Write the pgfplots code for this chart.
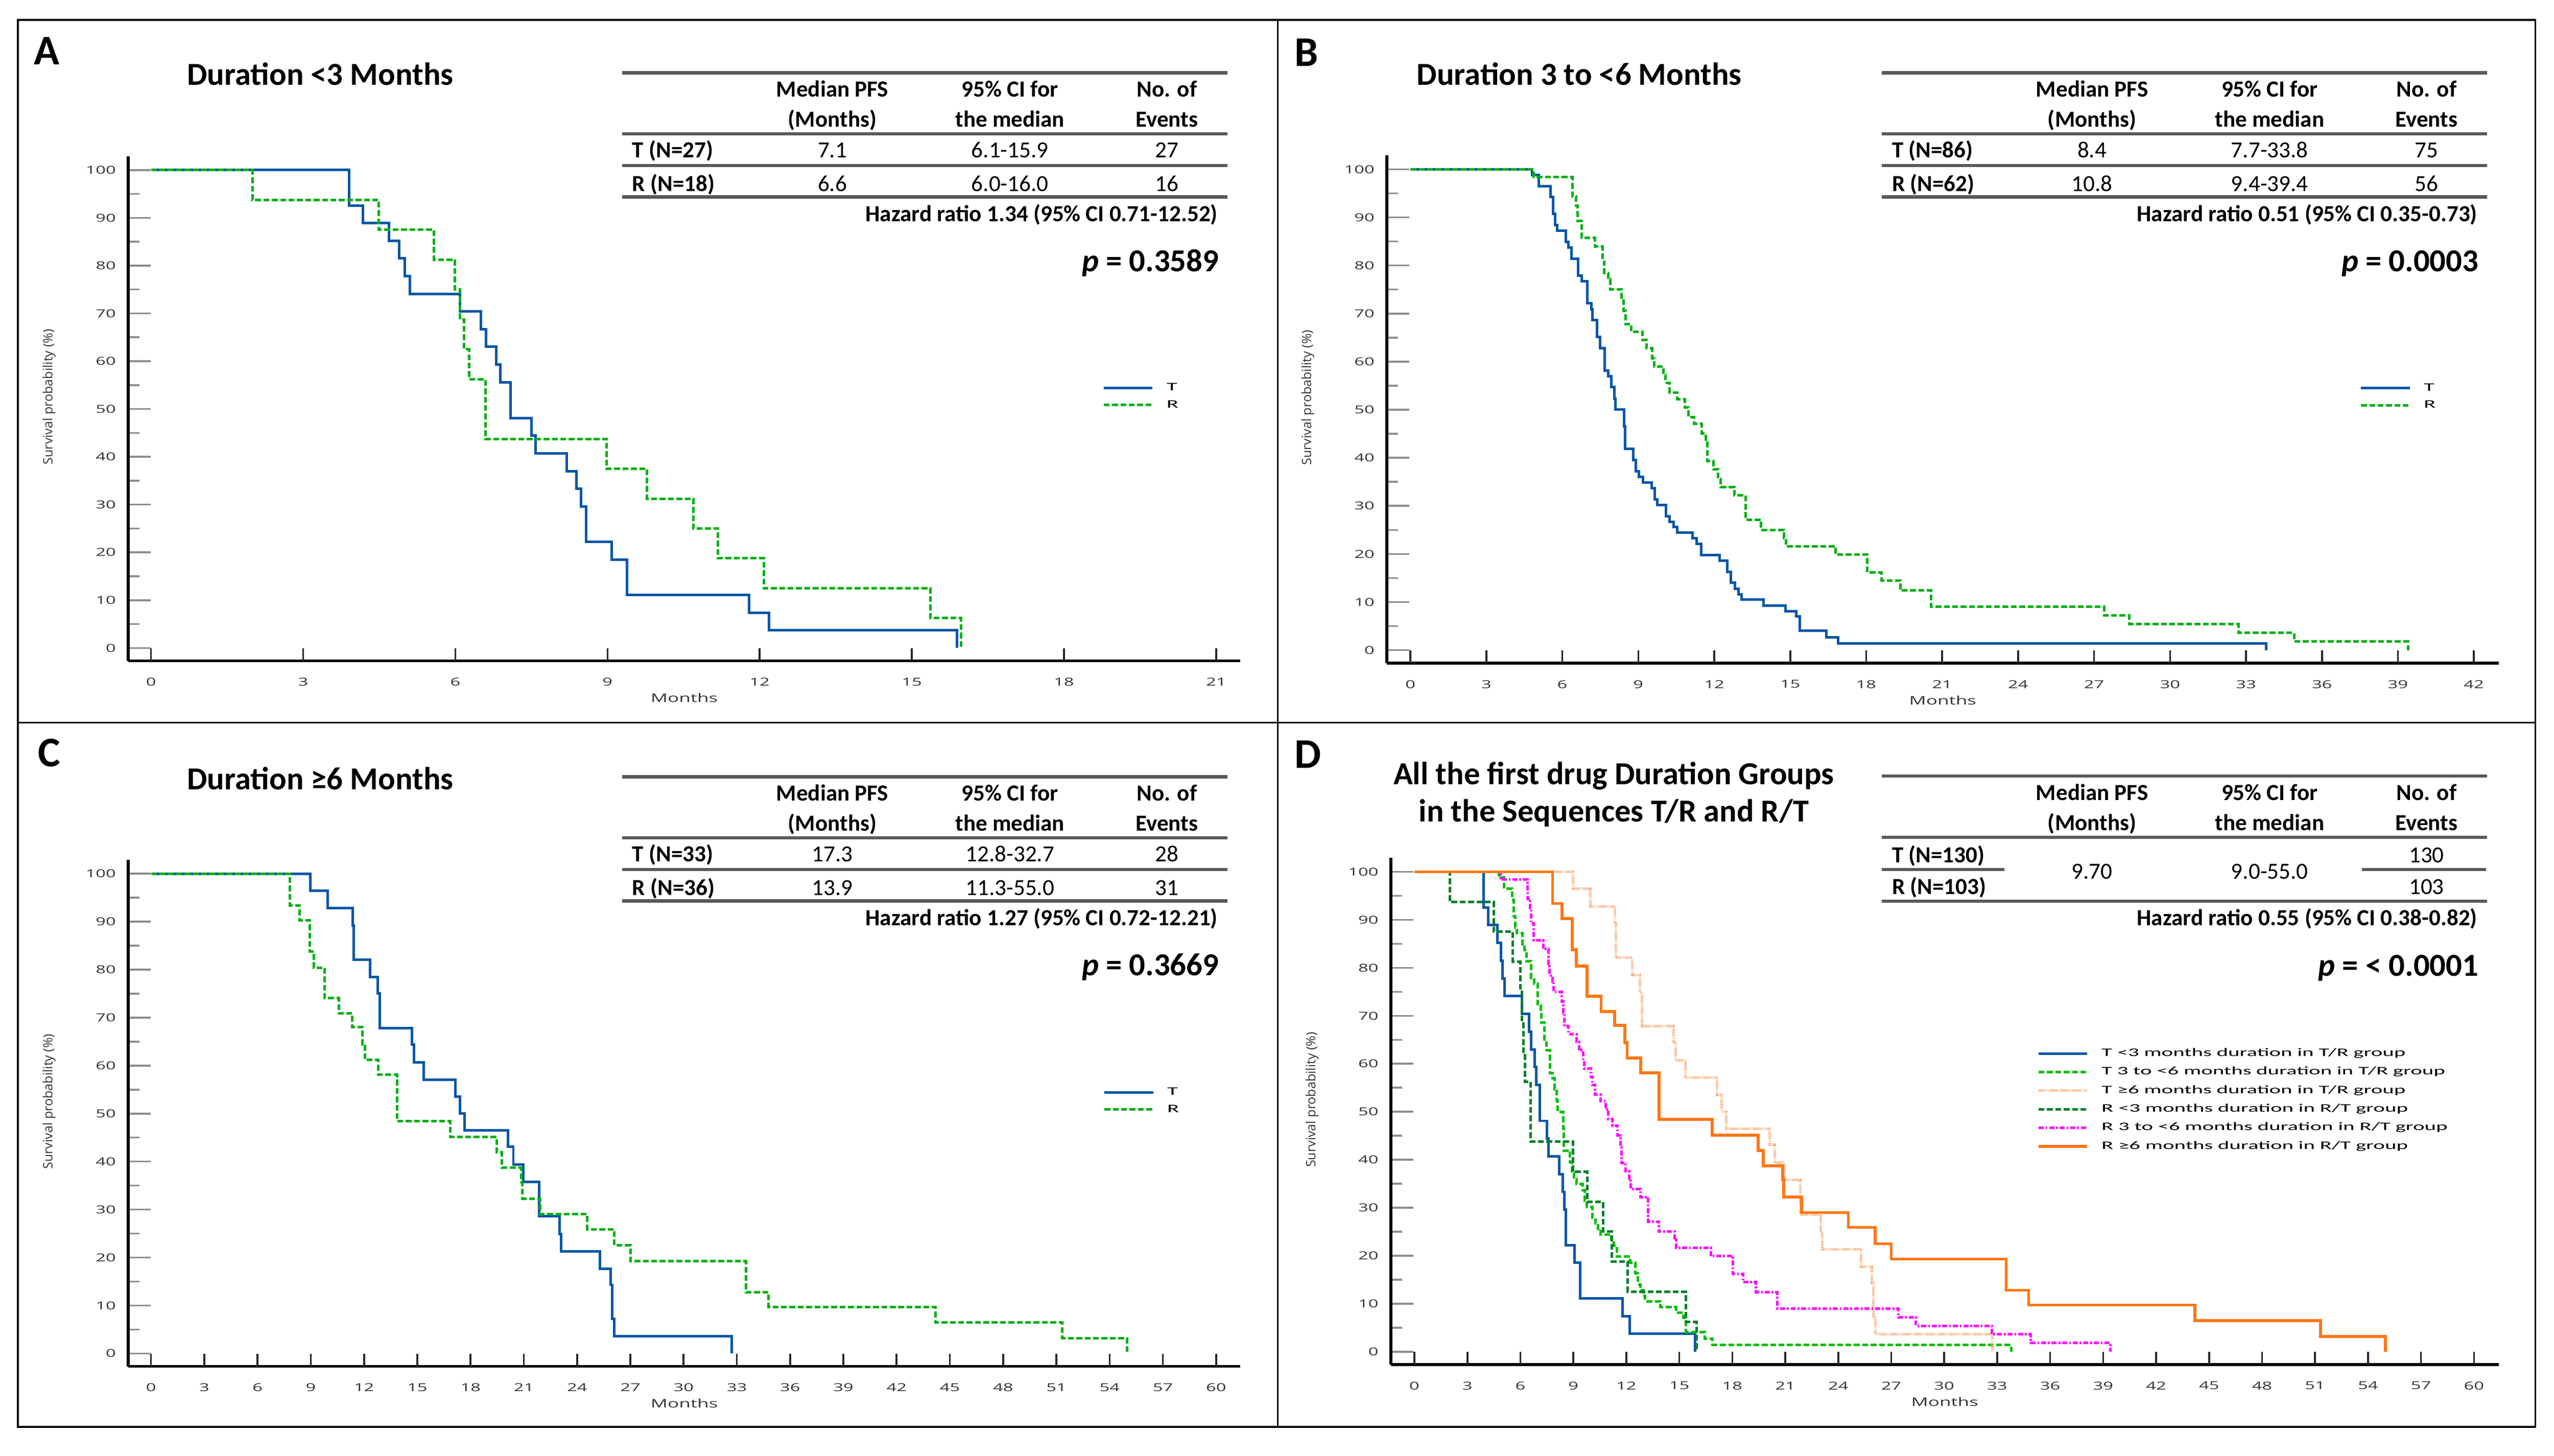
\documentclass[border=0pt]{standalone}
\usepackage{pgfplots}
\usepackage{pgfplotstable}
\pgfplotsset{compat=1.18}
\usepackage{fontspec}
\setmainfont{Carlito}
\newfontfamily\tickfont[FakeStretch=1.6]{Open Sans}
\newfontfamily\labfont{Open Sans}
\newfontfamily\legfont[FakeStretch=1.9]{Carlito}

\definecolor{cT}{RGB}{0,86,166}
\definecolor{cR}{RGB}{0,176,20}
\definecolor{cTB}{RGB}{0,190,0}
\definecolor{cDG}{RGB}{0,128,40}
\definecolor{cMag}{RGB}{255,0,255}
\definecolor{cOr}{RGB}{255,118,20}
\definecolor{cLO}{RGB}{246,176,128}
\definecolor{rulec}{RGB}{90,90,90}

% ---------------- data (months, survival %) ----------------
\pgfplotstableread{
t s
0 100
3.91 92.6
4.18 88.9
4.69 85.2
4.89 81.5
5.00 77.8
5.10 74.1
6.09 70.4
6.50 66.7
6.61 63.0
6.81 59.3
6.89 55.6
7.09 48.1
7.50 44.4
7.58 40.7
8.20 37.0
8.39 33.3
8.48 29.6
8.58 22.2
9.08 18.5
9.38 11.1
11.79 7.4
12.18 3.7
15.89 0
}\ATt
\pgfplotstableread{
t s
0 100
2.00 93.75
4.49 87.5
5.58 81.25
5.99 75
6.09 68.75
6.17 62.5
6.27 56.25
6.59 43.75
8.98 37.5
9.78 31.25
10.69 25
11.18 18.75
12.08 12.5
15.37 6.25
15.97 0
}\ARt
\pgfplotstableread{
t s
0 100
4.80 98.8
5.08 96.5
5.53 94.2
5.63 90.7
5.71 88.4
5.79 87.2
6.13 84.9
6.24 83.7
6.36 81.4
6.62 77.9
6.77 76.7
6.99 72.1
7.15 70.9
7.18 68.6
7.37 65.1
7.49 62.8
7.67 58.1
7.82 57.0
7.93 54.7
8.05 52.3
8.10 50.0
8.43 46.5
8.47 41.9
8.81 39.5
8.91 37.2
9.03 36.0
9.18 34.9
9.52 33.7
9.64 31.4
9.76 30.2
10.09 27.9
10.24 26.7
10.39 25.6
10.54 24.4
11.15 23.3
11.30 22.1
11.48 19.8
12.21 18.6
12.51 16.3
12.66 14.0
12.81 12.8
12.96 11.6
13.07 10.5
13.94 9.3
14.82 8.1
15.23 7.0
15.38 4.1
16.43 2.7
16.89 1.4
33.80 0
}\BTt
\pgfplotstableread{
t s
0 100
4.87 98.4
6.40 94.4
6.55 92.4
6.61 89.3
6.76 85.7
7.29 83.9
7.59 80.8
7.66 78.4
7.81 77.1
7.89 75.0
8.34 73.0
8.42 70.6
8.49 67.8
8.72 66.2
9.17 64.5
9.32 62.8
9.55 60.7
9.62 59.0
10.00 57.3
10.08 55.6
10.23 53.6
10.53 52.2
10.83 50.5
10.98 48.5
11.21 47.1
11.51 45.1
11.66 43.1
11.73 39.3
11.96 37.6
12.16 35.6
12.26 33.9
12.79 32.2
13.24 27.1
13.85 25.0
14.75 23.3
14.83 21.6
16.79 19.9
18.04 16.2
18.60 14.5
19.35 12.4
20.56 9.0
27.40 7.2
28.40 5.4
32.70 3.6
34.90 1.8
39.40 0
}\BRt
\pgfplotstableread{
t s
0 100
8.98 96.5
9.95 92.8
11.36 89.2
11.42 82.1
12.34 78.5
12.78 75.0
12.88 67.8
14.69 64.4
14.80 60.7
15.35 57.1
17.15 53.5
17.41 50.0
17.66 46.5
20.12 43.1
20.41 39.4
20.96 35.8
21.86 28.6
23.02 24.9
23.09 21.3
25.30 17.7
25.90 14.3
25.99 7.2
26.10 3.6
32.72 0
}\CTt
\pgfplotstableread{
t s
0 100
7.82 93.4
8.36 90.3
8.94 83.8
9.16 80.4
9.77 74.1
10.57 70.9
11.33 68.0
11.91 64.4
12.05 61.2
12.81 58.1
13.86 48.4
16.87 45.1
19.47 41.9
19.76 38.7
20.85 35.8
20.92 32.2
21.93 29.0
24.57 25.9
26.09 22.5
27.00 19.3
33.51 12.8
34.78 9.7
44.19 6.5
51.32 3.2
54.98 0
}\CRt

\pgfplotsset{
  km/.style={
    scale only axis,
    axis lines*=left,
    axis line style={line width=0.4mm, black},
    ymin=-2.7, ymax=102.9,
    ytick={0,10,...,100},
    minor ytick={5,15,...,95},
    tick align=inside,
    major tick length=3.1mm,
    minor tick length=1.55mm,
    ytick style={draw=black!45, line width=0.25mm},
    minor tick style={draw=black!45, line width=0.25mm},
    xtick=\empty,
    xtick style={draw=black!85, line width=0.25mm},
    extra x tick style={major tick length=1.75mm},
    /pgf/number format/assume math mode=true,
    ticklabel style={font=\tickfont\fontsize{4.3}{5}\selectfont, text=black!80},
    yticklabel style={xshift=-0.45mm},
    xticklabel style={yshift=-1.1mm},
    xlabel={Months},
    ylabel={Survival probability (\%)},
    xlabel style={at={(axis description cs:0.5,0)}, anchor=center, yshift=-5.1mm,
      font=\tickfont\fontsize{4.6}{5.5}\selectfont, text=black!80},
    ylabel style={at={(axis description cs:-0.071,0.523)}, anchor=center,
      font=\labfont\fontsize{5}{6}\selectfont, text=black!80},
    legend cell align=left,
    legend style={draw=none, fill=none, inner sep=0pt, outer sep=0pt,
      column sep=1.75mm, row sep=0.9mm,
      font=\legfont\fontsize{4.5}{5.5}\selectfont,
      nodes={inner sep=0pt, text height=1.1mm, text depth=0.35mm}},
    legend image code/.code={\draw[#1] (0mm,0mm) -- (6.7mm,0mm);},
  },
  Tst/.style={cT, line width=0.35mm, const plot, no marks},
  Rst/.style={cR, line width=0.35mm, dash pattern=on 0.8mm off 0.35mm, const plot, no marks},
}

\newcommand\tabfs{\fontsize{9}{10.8}\selectfont}
\newcommand\pfs{\fontsize{12.5}{15}\selectfont}
\newcommand\ttfs{\fontsize{12.5}{15}\selectfont\bfseries}
\newcommand\letfs{\fontsize{16.5}{19}\selectfont\bfseries}

\newcommand\tabhead[2]{%
  \begin{scope}[shift={(#1,#2)}]
    \draw[rulec, line width=0.45mm] (1710,200) -- (3372,200);
    \draw[rulec, line width=0.45mm] (1710,368) -- (3372,368);
    \node[anchor=base, font=\tabfs\bfseries] at (2287,266) {Median PFS};
    \node[anchor=base, font=\tabfs\bfseries] at (2287,349) {(Months)};
    \node[anchor=base, font=\tabfs\bfseries] at (2775,266) {95\% CI for};
    \node[anchor=base, font=\tabfs\bfseries] at (2775,349) {the median};
    \node[anchor=base, font=\tabfs\bfseries] at (3206,266) {No. of};
    \node[anchor=base, font=\tabfs\bfseries] at (3206,349) {Events};
  \end{scope}}
\newcommand\tabrows[9]{%
  \begin{scope}[shift={(#1,#2)}]
    \node[anchor=base west, font=\tabfs\bfseries] at (1736,433) {#3};
    \node[anchor=base, font=\tabfs] at (2287,433) {#4};
    \node[anchor=base, font=\tabfs] at (2775,433) {#5};
    \node[anchor=base, font=\tabfs] at (3206,433) {#6};
    \draw[rulec, line width=0.45mm] (1710,455) -- (3372,455);
    \node[anchor=base west, font=\tabfs\bfseries] at (1736,525) {#7};
    \node[anchor=base, font=\tabfs] at (2287,525) {#8};
    \node[anchor=base, font=\tabfs] at (2775,525) {#9};
  \end{scope}}
\newcommand\tabfoot[5]{%
  \begin{scope}[shift={(#1,#2)}]
    \node[anchor=base, font=\tabfs] at (3206,525) {#3};
    \draw[rulec, line width=0.45mm] (1710,541) -- (3372,541);
    \node[anchor=base east, font=\tabfs\bfseries] at (3347,608) {#4};
    \node[anchor=base east, font=\pfs\bfseries] at (3350,746) {{\itshape p} = #5};
  \end{scope}}

\begin{document}
\begin{tikzpicture}
\path[use as bounding box] (0,0) rectangle (350.85mm,199.95mm);
\fill[white] (0,0) rectangle (350.85mm,199.95mm);

% ---------------- Panel A ----------------
\begin{axis}[km, at={(17.6mm,109.175mm)}, anchor=south west,
  width=152.8mm, height=69.325mm, xmin=-0.452, xmax=21.48,
  extra x ticks={0,3,...,21},
  legend style={at={(axis description cs:0.876,0.524)}, anchor=west}]
\addplot[Tst] table[x=t,y=s]{\ATt}; \addlegendentry{T}
\addplot[Rst] table[x=t,y=s]{\ARt}; \addlegendentry{R}
\end{axis}

% ---------------- Panel B ----------------
\begin{axis}[km, at={(190.5mm,108.865mm)}, anchor=south west,
  width=152.75mm, height=69.75mm, xmin=-0.934, xmax=42.98,
  extra x ticks={0,3,...,42},
  legend style={at={(axis description cs:0.875,0.5245)}, anchor=west}]
\addplot[Tst] table[x=t,y=s]{\BTt}; \addlegendentry{T}
\addplot[Rst] table[x=t,y=s]{\BRt}; \addlegendentry{R}
\end{axis}

% ---------------- Panel C ----------------
\begin{axis}[km, at={(17.6mm,12.27mm)}, anchor=south west,
  width=152.8mm, height=69.59mm, xmin=-1.292, xmax=61.37,
  extra x ticks={0,3,...,60},
  legend style={at={(axis description cs:0.8766,0.524)}, anchor=west}]
\addplot[Tst] table[x=t,y=s]{\CTt}; \addlegendentry{T}
\addplot[Rst] table[x=t,y=s]{\CRt}; \addlegendentry{R}
\end{axis}

% ---------------- Panel D ----------------
\begin{axis}[km, at={(191.05mm,12.52mm)}, anchor=south west,
  width=152.2mm, height=69.59mm, xmin=-1.34, xmax=61.40,
  extra x ticks={0,3,...,60},
  legend style={at={(axis description cs:0.5834,0.5224)}, anchor=west, row sep=1.1mm}]
\addplot[Tst] table[x=t,y=s]{\ATt};
\addlegendentry{T <3 months duration in T/R group}
\addplot[cTB, line width=0.35mm, dash pattern=on 0.8mm off 0.35mm, const plot, no marks] table[x=t,y=s]{\BTt};
\addlegendentry{T 3 to <6 months duration in T/R group}
\addplot[cLO, line width=0.35mm, dash pattern=on 0.12mm off 0.1mm, const plot, no marks] table[x=t,y=s]{\CTt};
\addlegendentry{T ≥6 months duration in T/R group}
\addplot[cDG, line width=0.35mm, dash pattern=on 0.8mm off 0.35mm, const plot, no marks] table[x=t,y=s]{\ARt};
\addlegendentry{R <3 months duration in R/T group}
\addplot[cMag, line width=0.35mm, dash pattern=on 0.7mm off 0.25mm on 0.25mm off 0.25mm, const plot, no marks] table[x=t,y=s]{\BRt};
\addlegendentry{R 3 to <6 months duration in R/T group}
\addplot[cOr, line width=0.4mm, const plot, no marks] table[x=t,y=s]{\CRt};
\addlegendentry{R ≥6 months duration in R/T group}
\end{axis}

% ---------------- annotations (pixel coordinates, y down) ----------------
\begin{scope}[x=0.05mm, y=-0.05mm, shift={(0,199.95mm)}, every node/.style={inner sep=0pt}]
  % frames
  \draw[black, line width=0.25mm] (49,55) rectangle (6966,3920);
  \draw[black, line width=0.25mm] (3511,55) -- (3511,3920);
  \draw[black, line width=0.25mm] (49,1985) -- (6966,1985);
  % letters
  \node[font=\letfs] at (129,140) {A};
  \node[font=\letfs] at (3590,144) {B};
  \node[font=\letfs] at (135,2068) {C};
  \node[font=\letfs] at (3593,2073) {D};
  % titles
  \node[anchor=base, font=\ttfs] at (880,234) {Duration <3 Months};
  \node[anchor=base, font=\ttfs] at (4339,234) {Duration 3 to <6 Months};
  \node[anchor=base, font=\ttfs] at (880,2169) {Duration ≥6 Months};
  \node[anchor=base, font=\ttfs] at (4434,2155) {All the first drug Duration Groups};
  \node[anchor=base, font=\ttfs] at (4434,2258) {in the Sequences T/R and R/T};
  % table A
  \tabhead{0}{0}
  \tabrows{0}{0}{T (N=27)}{7.1}{6.1-15.9}{27}{R (N=18)}{6.6}{6.0-16.0}
  \tabfoot{0}{0}{16}{Hazard ratio 1.34 (95\% CI 0.71-12.52)}{0.3589}
  % table B
  \tabhead{3461}{0}
  \tabrows{3461}{0}{T (N=86)}{8.4}{7.7-33.8}{75}{R (N=62)}{10.8}{9.4-39.4}
  \tabfoot{3461}{0}{56}{Hazard ratio 0.51 (95\% CI 0.35-0.73)}{0.0003}
  % table C
  \tabhead{0}{1934}
  \tabrows{0}{1934}{T (N=33)}{17.3}{12.8-32.7}{28}{R (N=36)}{13.9}{11.3-55.0}
  \tabfoot{0}{1934}{31}{Hazard ratio 1.27 (95\% CI 0.72-12.21)}{0.3669}
  % table D
  \tabhead{3461}{1932}
  \begin{scope}[shift={(3461,1932)}]
    \node[anchor=base west, font=\tabfs\bfseries] at (1736,438) {T (N=130)};
    \draw[rulec, line width=0.45mm] (1710,457) -- (2046,457);
    \node[anchor=base west, font=\tabfs\bfseries] at (1736,525) {R (N=103)};
    \node[anchor=base, font=\tabfs] at (2287,483) {9.70};
    \node[anchor=base, font=\tabfs] at (2775,483) {9.0-55.0};
    \node[anchor=base, font=\tabfs] at (3206,438) {130};
    \draw[rulec, line width=0.45mm] (3029,457) -- (3370,457);
    \node[anchor=base, font=\tabfs] at (3206,525) {103};
    \draw[rulec, line width=0.45mm] (1710,544) -- (3372,544);
    \node[anchor=base east, font=\tabfs\bfseries] at (3347,611) {Hazard ratio 0.55 (95\% CI 0.38-0.82)};
    \node[anchor=base east, font=\pfs\bfseries] at (3350,749) {{\itshape p} = < 0.0001};
  \end{scope}
\end{scope}
\end{tikzpicture}
\end{document}
